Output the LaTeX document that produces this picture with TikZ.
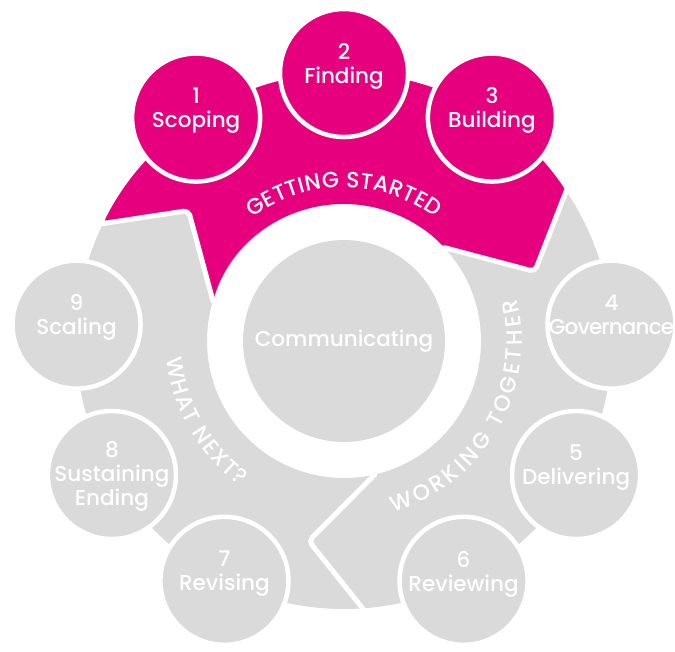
\documentclass[tikz,border=0pt]{standalone}
\usepackage{fontspec}
\setmainfont{Poppins}[UprightFont={* Medium}]
\usetikzlibrary{decorations.text}
\definecolor{rosa}{HTML}{E6007E}
\definecolor{gris}{HTML}{DADADA}
\tikzset{
  etapa/.style={circle, minimum size=4.267cm, inner sep=0pt, draw=white, line width=0.15cm},
  etiqueta/.style={anchor=north, inner sep=0pt, align=center, text=white, font=\fontsize{20.4}{22.8}\selectfont},
  limite/.style={draw=white, line width=0.167cm, rounded corners=0.17cm, line cap=round},
  curvo/.style 2 args={decorate, decoration={text effects along path, text={#2}, text align=center,
    text effects/.cd, text along path,
    character widths={inner xsep=#1, inner ysep=0pt, font=\fontsize{21}{24}\selectfont},
    characters={text=white, anchor=base, inner sep=0pt, font=\fontsize{21}{24}\selectfont}}}
}
\begin{document}
\begin{tikzpicture}
	\useasboundingbox (-11.467,-10.333) rectangle (11.033,11.367);
	% Anillo
		\fill[gris, even odd rule] (0,0) circle[radius=8.933] (0,0) circle[radius=4.567];
		\fill[rosa, rounded corners=0.17cm] (34:8.933) arc[start angle=34, end angle=154, radius=8.933] -- (140:6.767) -- (163:4.567) arc[start angle=163, end angle=43, radius=4.567] -- (20:6.767) -- cycle;
	
	% Separaciones
		\foreach \b in {0,120,240}
			\draw[limite] (\b+34:8.933) -- (\b+20:6.767) -- (\b+43:4.567);
	
	% Centro
		\node[circle, fill=gris, minimum size=6.733cm, inner sep=0pt, text=white, font=\fontsize{20.4}{22.8}\selectfont] (com) at (0,0) {Communicating};
	
	% Textos curvos
		\path[curvo={0.1pt}{GETTING STARTED}] (145:5.12) arc[start angle=145, end angle=35, radius=5.12];
		\path[curvo={1.5pt}{WORKING TOGETHER}] (-100:5.93) arc[start angle=-100, end angle=40, radius=5.93];
		\path[curvo={0.7pt}{WHAT NEXT?}] (140:5.93) arc[start angle=140, end angle=280, radius=5.93];
	
	% Circulos
		\node[etapa, fill=rosa] (c1) at (123.5:8.933) {};
		\node[etapa, fill=rosa] (c2) at (90:8.933) {};
		\node[etapa, fill=rosa] (c3) at (56.5:8.933) {};
		\node[etapa, fill=gris] (c4) at (3.5:8.933) {};
		\node[etapa, fill=gris] (c5) at (-30:8.933) {};
		\node[etapa, fill=gris] (c6) at (-63.5:8.933) {};
		\node[etapa, fill=gris] (c7) at (-116.5:8.933) {};
		\node[etapa, fill=gris] (c8) at (-150:8.933) {};
		\node[etapa, fill=gris] (c9) at (176.5:8.933) {};
	
	% Etiquetas
		\node[etiqueta] (t1) at ([yshift=1cm]c1.center) {1\\Scoping};
		\node[etiqueta] (t2) at ([yshift=1cm]c2.center) {2\\Finding};
		\node[etiqueta] (t3) at ([yshift=1cm]c3.center) {3\\Building};
		\node[etiqueta] (t4) at ([yshift=1cm]c4.center) {4\\\addfontfeature{LetterSpace=-4}Governance};
		\node[etiqueta] (t5) at ([yshift=1cm]c5.center) {5\\Delivering};
		\node[etiqueta] (t6) at ([yshift=1cm]c6.center) {6\\Reviewing};
		\node[etiqueta] (t7) at ([yshift=1cm]c7.center) {7\\Revising};
		\node[etiqueta] (t8) at ([yshift=1.13cm]c8.center) {8\\Sustaining\\Ending};
		\node[etiqueta] (t9) at ([yshift=1cm]c9.center) {9\\Scaling};
\end{tikzpicture}
\end{document}
